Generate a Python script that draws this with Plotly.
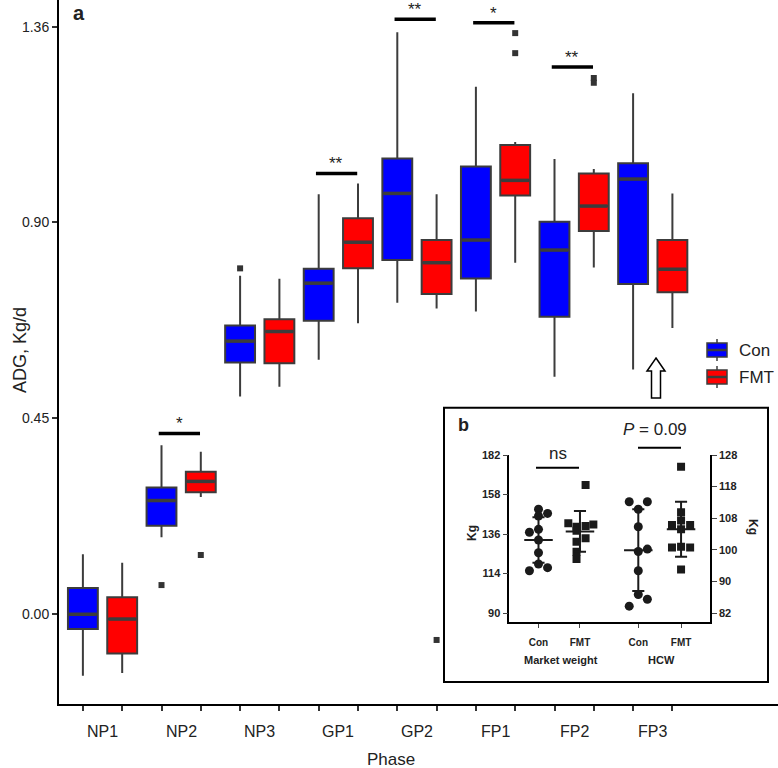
import plotly.graph_objects as go

# ---------------- data: panel a (ADG, Kg/d) ----------------
phases = ["NP1", "NP2", "NP3", "GP1", "GP2", "FP1", "FP2", "FP3"]
con_low = [-0.141, 0.177, 0.500, 0.584, 0.715, 0.695, 0.545, 0.562]
con_q1 = [-0.034, 0.203, 0.578, 0.674, 0.813, 0.771, 0.683, 0.758]
con_med = [0.000, 0.261, 0.627, 0.760, 0.966, 0.859, 0.836, 0.999]
con_q3 = [0.060, 0.291, 0.663, 0.793, 1.046, 1.028, 0.901, 1.035]
con_high = [0.138, 0.388, 0.777, 0.964, 1.336, 1.211, 1.045, 1.196]
fmt_low = [-0.135, 0.269, 0.522, 0.668, 0.702, 0.807, 0.796, 0.657]
fmt_q1 = [-0.090, 0.280, 0.576, 0.794, 0.735, 0.961, 0.880, 0.739]
fmt_med = [-0.011, 0.305, 0.649, 0.854, 0.807, 0.996, 0.937, 0.792]
fmt_q3 = [0.039, 0.327, 0.677, 0.909, 0.859, 1.077, 1.012, 0.859]
fmt_high = [0.118, 0.373, 0.770, 0.989, 0.964, 1.084, 1.022, 0.966]
con_out_phase = ["NP2", "NP3"]
con_out_val = [0.067, 0.794]
fmt_out_phase = ["NP2", "GP2", "FP1", "FP1", "FP2", "FP2"]
fmt_out_val = [0.136, -0.059, 1.334, 1.288, 1.231, 1.220]
sig_labels = ["", "*", "", "**", "**", "*", "**", ""]
sig_heights = [None, 0.415, None, 1.012, 1.366, 1.358, 1.256, None]
y_tickvals = [0.0, 0.45, 0.90, 1.348]
y_ticktext = ["0.00", "0.45", "0.90", "1.36"]
series_names = ["Con", "FMT"]
series_colors = ["#0000ff", "#ff0000"]

# ---------------- data: panel b (inset) ----------------
mw_con = [150.4, 148.0, 146.5, 138.7, 137.0, 132.5, 125.1, 118.5, 116.4, 114.6]
mw_fmt = [164.5, 142.2, 140.2, 140.7, 141.6, 137.9, 133.5, 131.5, 125.7, 121.4]
hcw_con = [114.4, 114.4, 112.2, 107.1, 100.6, 99.9, 94.3, 87.4, 86.0, 84.0]
hcw_fmt = [124.6, 111.3, 108.9, 107.6, 107.6, 106.4, 101.1, 101.3, 101.1, 94.7]
mw_mean = [132.5, 137.5]
mw_sd = [13.3, 11.85]
hcw_mean = [100.3, 106.4]
hcw_sd = [11.9, 8.0]
left_tickvals = [90, 113, 136, 159, 182]
left_ticktext = ["90", "114", "136", "158", "182"]
right_tickvals = [82, 91.2, 100.4, 109.6, 118.8, 128]
right_ticktext = ["82", "90", "100", "108", "118", "128"]
inset_groups = ["Con", "FMT", "Con", "FMT"]

FONT = "Liberation Sans, Arial, sans-serif"
W, H = 778, 768
L, R, T, B = 59, 0, 0, 64
PW, PH = W - L - R, H - T - B


def px(x):
    return (x - L) / PW


def py(y):
    return (T + PH - y) / PH


def note(x, y, text, size, **kw):
    d = dict(xref="paper", yref="paper", x=px(x), y=py(y), text=text, showarrow=False,
             xanchor="center", yanchor="middle", font=dict(family=FONT, size=size, color="#222"))
    d.update(kw)
    return d


def pline(x0, y0, x1, y1, color="black", width=2):
    return dict(type="line", xref="paper", yref="paper", x0=px(x0), x1=px(x1), y0=py(y0), y1=py(y1),
                line=dict(color=color, width=width))


fig = go.Figure()

con_x = [2 * i for i in range(len(phases))]
fmt_x = [2 * i + 1 for i in range(len(phases))]
box_line = "#3c3c3c"
BW = 0.76

fig.add_trace(go.Box(
    name=series_names[0], x=con_x, q1=con_q1, median=con_med, q3=con_q3,
    lowerfence=con_low, upperfence=con_high, width=BW, whiskerwidth=0,
    fillcolor=series_colors[0], line=dict(color=box_line, width=2), boxpoints=False,
    hoverinfo="skip", showlegend=False))
fig.add_trace(go.Box(
    name=series_names[1], x=fmt_x, q1=fmt_q1, median=fmt_med, q3=fmt_q3,
    lowerfence=fmt_low, upperfence=fmt_high, width=BW, whiskerwidth=0,
    fillcolor=series_colors[1], line=dict(color=box_line, width=2), boxpoints=False,
    hoverinfo="skip", showlegend=False))

# thicker median bars
mx, my = [], []
for xs, meds in ((con_x, con_med), (fmt_x, fmt_med)):
    for xv, m in zip(xs, meds):
        mx += [xv - BW / 2 + 0.03, xv + BW / 2 - 0.03, None]
        my += [m, m, None]
fig.add_trace(go.Scatter(x=mx, y=my, mode="lines", line=dict(color=box_line, width=3.5),
                         showlegend=False, hoverinfo="skip"))

fig.add_trace(go.Scatter(
    x=[2 * phases.index(p) for p in con_out_phase] + [2 * phases.index(p) + 1 for p in fmt_out_phase],
    y=con_out_val + fmt_out_val, mode="markers", showlegend=False,
    marker=dict(symbol="square", size=6, color="#333333"), hoverinfo="skip"))

shapes = []
annotations = []

# significance bars
for i, (lab, h) in enumerate(zip(sig_labels, sig_heights)):
    if not lab:
        continue
    shapes.append(dict(type="line", xref="x", yref="y", x0=2 * i - 0.07, x1=2 * i + 1 - 0.02,
                       y0=h, y1=h, line=dict(color="black", width=3.5)))
    annotations.append(dict(xref="x", yref="y", x=2 * i + 0.45, y=h, text=lab, showarrow=False,
                            xanchor="center", yanchor="bottom", yshift=-2,
                            font=dict(family=FONT, size=17, color="#222")))

# category labels
for i, p in enumerate(phases):
    annotations.append(dict(xref="x", yref="paper", x=2 * i + 0.5, y=py(731), text=p, showarrow=False,
                            xanchor="center", yanchor="middle", font=dict(family=FONT, size=16, color="#222")))

annotations += [
    note((W + L) / 2 - 28, 759, "Phase", 17),
    note(20, 350, "ADG, Kg/d", 18, textangle=-90),
    note(79, 13, "<b>a</b>", 20),
]

# legend drawn as mini box-plot icons
for k, (nm, col) in enumerate(zip(series_names, series_colors)):
    cy = 350 + 27 * k
    shapes.append(pline(717, cy - 11, 717, cy - 7, box_line, 1.5))
    shapes.append(pline(717, cy + 7, 717, cy + 11, box_line, 1.5))
    shapes.append(dict(type="rect", xref="paper", yref="paper", x0=px(707), x1=px(727), y0=py(cy + 7),
                       y1=py(cy - 7), line=dict(color=box_line, width=1.5), fillcolor=col))
    shapes.append(pline(707, cy, 727, cy, box_line, 2.5))
    annotations.append(note(737, cy, nm, 17, xanchor="left"))

# hollow arrow pointing to inset
ax, atop, abase, abot, hw, sw = 656, 358, 371, 398, 9, 4.5
path = (f"M {px(ax)} {py(atop)} L {px(ax + hw)} {py(abase)} L {px(ax + sw)} {py(abase)} "
        f"L {px(ax + sw)} {py(abot)} L {px(ax - sw)} {py(abot)} L {px(ax - sw)} {py(abase)} "
        f"L {px(ax - hw)} {py(abase)} Z")
shapes.append(dict(type="path", xref="paper", yref="paper", path=path,
                   line=dict(color="black", width=1.5), fillcolor="white"))

# inset frame
shapes.append(dict(type="rect", xref="paper", yref="paper", x0=px(444), x1=px(768), y0=py(682), y1=py(407.7),
                   line=dict(color="black", width=2), fillcolor="white", layer="below"))

# ---------------- inset panel b ----------------
ipos = [0.0, 0.96, 2.31, 3.30]
jit_mw_con = [0.0, 0.21, 0.0, 0.0, -0.21, 0.0, 0.0, 0.0, 0.21, -0.21]
jit_mw_fmt = [0.13, -0.27, -0.08, 0.13, 0.31, -0.08, 0.13, -0.08, -0.08, -0.08]
jit_hcw_con = [-0.21, 0.21, 0.0, 0.0, 0.21, 0.0, 0.0, 0.0, 0.21, -0.21]
jit_hcw_fmt = [0.0, 0.0, 0.0, -0.21, 0.21, 0.0, -0.21, 0.0, 0.21, 0.0]

pt_color = "#1a1a1a"
groups = [
    (mw_con, ipos[0], jit_mw_con, "y2", "circle", 9),
    (mw_fmt, ipos[1], jit_mw_fmt, "y2", "square", 8),
    (hcw_con, ipos[2], jit_hcw_con, "y3", "circle", 9),
    (hcw_fmt, ipos[3], jit_hcw_fmt, "y3", "square", 8),
]
for vals, pos, jit, yax, sym, sz in groups:
    fig.add_trace(go.Scatter(x=[pos + j for j in jit], y=vals, xaxis="x2", yaxis=yax, mode="markers",
                             marker=dict(symbol=sym, size=sz, color=pt_color), showlegend=False,
                             hoverinfo="skip"))


def mean_sd(pos, m, s, yax):
    xs = [pos - 0.33, pos + 0.33, None, pos, pos, None, pos - 0.14, pos + 0.14, None, pos - 0.14, pos + 0.14]
    ys = [m, m, None, m - s, m + s, None, m + s, m + s, None, m - s, m - s]
    fig.add_trace(go.Scatter(x=xs, y=ys, xaxis="x2", yaxis=yax, mode="lines",
                             line=dict(color=pt_color, width=2), showlegend=False, hoverinfo="skip"))


mean_sd(ipos[0], mw_mean[0], mw_sd[0], "y2")
mean_sd(ipos[1], mw_mean[1], mw_sd[1], "y2")
mean_sd(ipos[2], hcw_mean[0], hcw_sd[0], "y3")
mean_sd(ipos[3], hcw_mean[1], hcw_sd[1], "y3")

# inset significance
shapes.append(pline(536, 467.7, 579, 467.7))
shapes.append(pline(638, 447.7, 681, 447.7))
annotations += [
    note(558, 453, "ns", 17),
    note(655, 429, "<i>P</i> = 0.09", 17),
    note(463, 425, "<b>b</b>", 18),
    note(472, 533, "<b>Kg</b>", 12, textangle=-90),
    note(753, 527, "<b>Kg</b>", 12, textangle=90),
    note(561, 660, "<b>Market weight</b>", 11),
    note(661, 660, "<b>HCW</b>", 11),
]

fig.update_layout(
    template="none",
    width=W, height=H, margin=dict(l=L, r=R, t=T, b=B, autoexpand=False),
    paper_bgcolor="white", plot_bgcolor="white",
    font=dict(family=FONT, color="#222"),
    showlegend=False,
    xaxis=dict(domain=[0, 1], range=[-0.608, 17.687], showline=True, linecolor="black", linewidth=2,
               ticks="outside", tickvals=list(range(16)), ticklen=5, tickwidth=1.5, tickcolor="#333",
               showticklabels=False, showgrid=False, zeroline=False, automargin=False),
    yaxis=dict(domain=[0, 1], range=[-0.206, 1.410], showline=True, linecolor="black", linewidth=2,
               ticks="outside", tickvals=y_tickvals, ticktext=y_ticktext, ticklen=5, tickwidth=1.5,
               tickcolor="#333", tickfont=dict(family=FONT, size=14, color="#222"),
               showgrid=False, zeroline=False, automargin=False),
    xaxis2=dict(domain=[px(509.3), px(710)], range=[-0.676, 3.97], anchor="y2", showline=True,
                linecolor="black", linewidth=1.5, ticks="outside", ticklen=4, tickvals=ipos,
                ticktext=["<b>%s</b>" % g for g in inset_groups], automargin=False, ticklabelstandoff=6,
                tickfont=dict(family=FONT, size=10, color="#222"), showgrid=False, zeroline=False),
    yaxis2=dict(domain=[py(622), py(455)], range=[84.76, 182], anchor="x2", showline=True,
                linecolor="black", linewidth=1.5, ticks="outside", ticklen=5, tickvals=left_tickvals,
                ticktext=["<b>%s</b>" % t for t in left_ticktext], automargin=False,
                tickfont=dict(family=FONT, size=11, color="#222"), showgrid=False, zeroline=False),
    yaxis3=dict(domain=[py(622), py(455)], range=[79.38, 128], anchor="x2", overlaying="y2", side="right",
                showline=True, linecolor="black", linewidth=1.5, ticks="outside", ticklen=5, automargin=False,
                tickvals=right_tickvals, ticktext=["<b>%s</b>" % t for t in right_ticktext],
                tickfont=dict(family=FONT, size=11, color="#222"), showgrid=False, zeroline=False),
    shapes=shapes, annotations=annotations,
)

fig.write_html("out.html", config={"displayModeBar": False},
               post_script="document.body.style.margin='0';document.body.style.overflow='hidden';")
